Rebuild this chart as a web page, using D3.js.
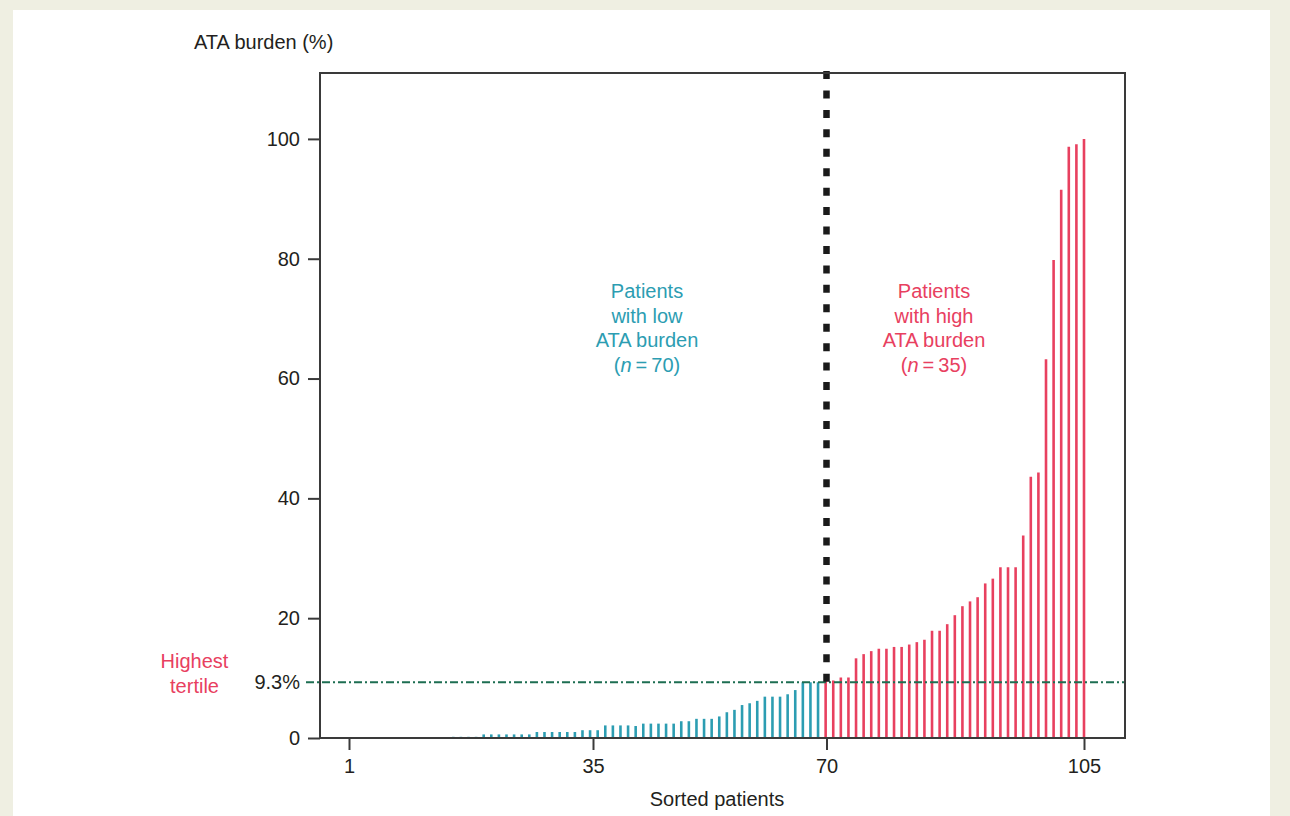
<!DOCTYPE html>
<html>
<head>
<meta charset="utf-8">
<script src="https://cdn.jsdelivr.net/npm/d3@7"></script>
<style>
  html, body { margin: 0; padding: 0; background: #efefe2; }
  svg { display: block; }
  text { font-family: "Liberation Sans", Arial, Helvetica, sans-serif; }
</style>
</head>
<body>
<svg id="chart" width="1290" height="816"></svg>
<script>
// ---------- DATA ----------
// ATA burden (%) of the 70 patients with low burden, sorted (patients 1..70)
const lowBurden = [
  0, 0, 0, 0, 0, 0, 0, 0, 0, 0, 0, 0, 0, 0, 0, 0, 0, 0, 0, 0, 0,
  0.2, 0.2, 0.2, 0.2,
  0.6, 0.6, 0.6, 0.6, 0.6, 0.6, 0.6,
  1.0, 1.0, 1.0, 1.0, 1.0, 1.0,
  1.3, 1.3, 1.3,
  2.1, 2.1, 2.1, 2.1, 2.0,
  2.4, 2.4, 2.4, 2.4, 2.4,
  2.8, 2.8, 3.2, 3.2, 3.2, 3.6, 4.3, 4.7, 5.5, 5.8, 6.2,
  6.9, 6.9, 6.9, 7.3, 8.0, 9.3, 9.3, 9.3
];
// ATA burden (%) of the 35 patients with high burden, sorted (patients 71..105)
const highBurden = [
  9.5, 9.6, 10.1, 10.1, 13.3, 14.0, 14.5, 14.9, 14.9, 15.2,
  15.2, 15.6, 16.0, 16.4, 17.9, 17.9, 19.0, 20.5, 22.0, 22.8,
  23.5, 25.8, 26.6, 28.5, 28.5, 28.5, 33.8, 43.6, 44.3, 63.2,
  79.8, 91.5, 98.7, 99.1, 100.0
];
const threshold = 9.3;
const thresholdLabel = "9.3%";
const xTickValues = [1, 35, 70, 105];
const yTickValues = [0, 20, 40, 60, 80, 100];
const yTitle = "ATA burden (%)";
const xTitle = "Sorted patients";
const tertileLabel = ["Highest", "tertile"];
const lowLabel = ["Patients", "with low", "ATA burden"];
const highLabel = ["Patients", "with high", "ATA burden"];
const lowN = 70, highN = 35;

// ---------- STYLE ----------
const teal = "#2c9db2";
const red = "#e8405f";
const green = "#1d6e52";
const ink = "#231f20";
const fontSize = 20;

const svg = d3.select("#chart");

// white panel on beige page
svg.append("rect").attr("x", 13).attr("y", 10).attr("width", 1257).attr("height", 820).attr("fill", "#ffffff");

const plot = { left: 320, right: 1125, top: 73, bottom: 738 };

const y = d3.scaleLinear().domain([0, 111]).range([plot.bottom, plot.top]);
// bar positions (even spacing per sorted patient)
const xBar = d3.scaleLinear().domain([22, 105]).range([453.3, 1084]);
// axis tick positions as printed in the figure
const xAxisScale = d3.scaleLinear().domain(xTickValues).range([349, 593, 826.5, 1084]);

const bars = lowBurden.map((v, i) => ({ p: i + 1, v, g: "low" }))
  .concat(highBurden.map((v, i) => ({ p: lowBurden.length + i + 1, v, g: "high" })))
  .filter(d => d.v > 0);

svg.append("g").selectAll("line").data(bars).join("line")
  .attr("x1", d => xBar(d.p)).attr("x2", d => xBar(d.p))
  .attr("y1", y(0)).attr("y2", d => y(d.v))
  .attr("stroke", d => d.g === "low" ? teal : red)
  .attr("stroke-width", 2.6);

// threshold dash-dot line
svg.append("line")
  .attr("x1", plot.left - 14).attr("x2", plot.right)
  .attr("y1", y(threshold)).attr("y2", y(threshold))
  .attr("stroke", green).attr("stroke-width", 2)
  .attr("stroke-dasharray", "8,3,2,3");

// vertical dotted separator
svg.append("line")
  .attr("x1", xAxisScale(70)).attr("x2", xAxisScale(70))
  .attr("y1", plot.top - 2).attr("y2", y(threshold))
  .attr("stroke", "#1a1a1a").attr("stroke-width", 6.5)
  .attr("stroke-dasharray", "8,11.44");

// frame
svg.append("rect")
  .attr("x", plot.left).attr("y", plot.top)
  .attr("width", plot.right - plot.left).attr("height", plot.bottom - plot.top)
  .attr("fill", "none").attr("stroke", "#3a3a3a").attr("stroke-width", 2);

// axes
const yAxis = svg.append("g").attr("transform", `translate(${plot.left},0)`)
  .call(d3.axisLeft(y).tickValues(yTickValues).tickSize(12).tickPadding(8));
const xAxis = svg.append("g").attr("transform", `translate(0,${plot.bottom})`)
  .call(d3.axisBottom(xAxisScale).tickValues(xTickValues).tickFormat(d3.format("d")).tickSize(12).tickPadding(9));
[yAxis, xAxis].forEach(a => {
  a.select(".domain").remove();
  a.selectAll(".tick line").attr("stroke", "#3a3a3a").attr("stroke-width", 2);
  a.selectAll(".tick text").attr("fill", ink).attr("font-size", fontSize)
    .attr("font-family", '"Liberation Sans", Arial, sans-serif');
});

// threshold label
svg.append("text").attr("x", plot.left - 20).attr("y", y(threshold)).attr("dy", "0.32em")
  .attr("text-anchor", "end").attr("fill", ink).attr("font-size", fontSize).text(thresholdLabel);

// titles
svg.append("text").attr("x", 194).attr("y", 49).attr("fill", ink).attr("font-size", fontSize).text(yTitle);
svg.append("text").attr("x", 717).attr("y", 806).attr("text-anchor", "middle")
  .attr("fill", ink).attr("font-size", fontSize).text(xTitle);

// highest tertile label
svg.append("text").attr("text-anchor", "middle").attr("fill", red).attr("font-size", fontSize)
  .selectAll("tspan").data(tertileLabel).join("tspan")
  .attr("x", 194.5).attr("y", (d, i) => 668 + i * 25).text(d => d);

// group annotations
function groupLabel(lines, n, cx, color) {
  const t = svg.append("text").attr("text-anchor", "middle").attr("fill", color).attr("font-size", fontSize);
  lines.forEach((l, i) => t.append("tspan").attr("x", cx).attr("y", 298 + i * 24.5).text(l));
  const last = t.append("tspan").attr("x", cx).attr("y", 298 + 3 * 24.5);
  last.append("tspan").text("(");
  last.append("tspan").attr("font-style", "italic").text("n");
  last.append("tspan").text("\u2009=\u2009" + n + ")");
}
groupLabel(lowLabel, lowN, 647, teal);
groupLabel(highLabel, highN, 934, red);
</script>
</body>
</html>
